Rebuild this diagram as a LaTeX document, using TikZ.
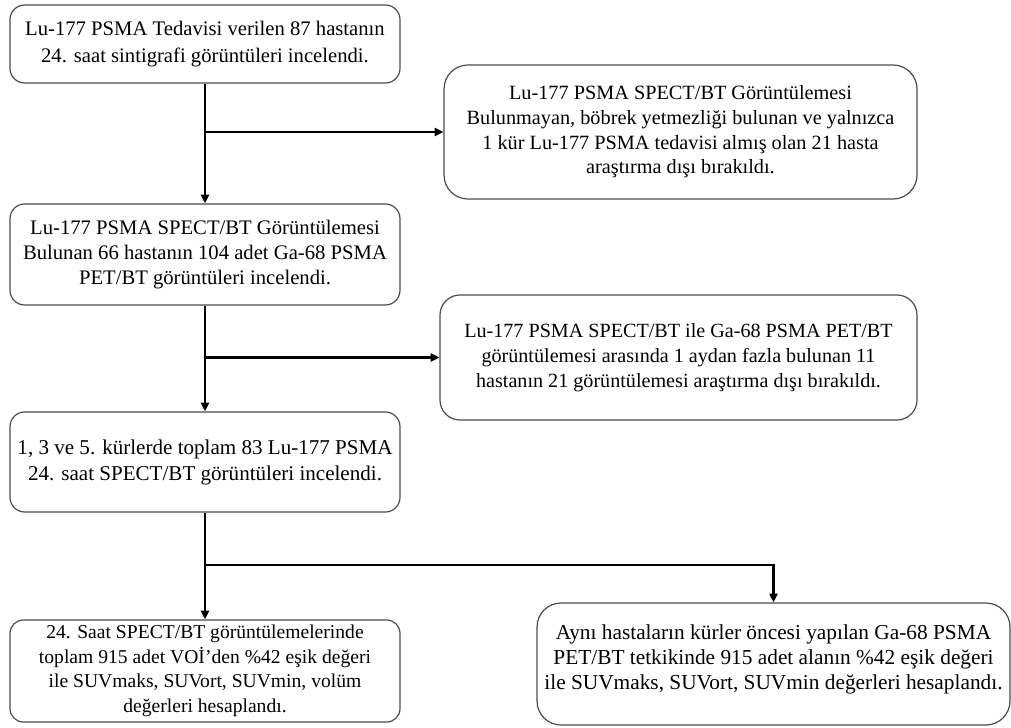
\documentclass[tikz,border=0pt]{standalone}
\usepackage{fontspec}
\setmainfont{Liberation Serif}
\usetikzlibrary{arrows.meta}
\tikzset{
  box/.style={draw=black!70, line width=0.9pt, fill=white, align=center, inner sep=0pt},
  conn/.style={line width=2pt, black},
  arr/.style={conn, -{Triangle[length=6.5pt,width=6pt]}},
}
\begin{document}
\begin{tikzpicture}[x=0.75pt,y=-0.75pt]
\useasboundingbox (0,0) rectangle (1011,728);
\node[box, font=\fontsize{15.5}{20.25}\selectfont, rounded corners=11pt, minimum width=292.5pt, minimum height=58.5pt] (b1) at (205,44)
  {Lu-177 PSMA Tedavisi verilen 87 hastanın\\24. saat sintigrafi görüntüleri incelendi.};
\node[box, font=\fontsize{15.2}{18.5}\selectfont, rounded corners=18pt, minimum width=354.75pt, minimum height=100.5pt] (b2) at (680.5,132)
  {Lu-177 PSMA SPECT/BT Görüntülemesi\\Bulunmayan, böbrek yetmezliği bulunan ve yalnızca\\1 kür Lu-177 PSMA tedavisi almış olan 21 hasta\\araştırma dışı bırakıldı.};
\node[box, font=\fontsize{15.5}{18.75}\selectfont, rounded corners=11pt, minimum width=292.5pt, minimum height=75.75pt] (b3) at (205,254.5)
  {Lu-177 PSMA SPECT/BT Görüntülemesi\\Bulunan 66 hastanın 104 adet Ga-68 PSMA\\PET/BT görüntüleri incelendi.};
\node[box, font=\fontsize{15.1}{18.75}\selectfont, rounded corners=15pt, minimum width=357.75pt, minimum height=93.75pt] (b4) at (678.5,357.5)
  {Lu-177 PSMA SPECT/BT ile Ga-68 PSMA PET/BT\\görüntülemesi arasında 1 aydan fazla bulunan 11\\hastanın 21 görüntülemesi araştırma dışı bırakıldı.};
\node[box, font=\fontsize{15.8}{19.5}\selectfont, rounded corners=11pt, minimum width=292.5pt, minimum height=75pt] (b5) at (205,462)
  {1, 3 ve 5. kürlerde toplam 83 Lu-177 PSMA\\24. saat SPECT/BT görüntüleri incelendi.};
\node[box, font=\fontsize{14.7}{18.4}\selectfont, rounded corners=10pt, minimum width=292.5pt, minimum height=76.5pt] (b6) at (205,671)
  {24. Saat SPECT/BT görüntülemelerinde\\toplam 915 adet VOİ’den \%42 eşik değeri\\ile SUVmaks, SUVort, SUVmin, volüm\\değerleri hesaplandı.};
\node[box, rounded corners=18pt, minimum width=354.75pt, minimum height=91.5pt] (b7) at (773.5,664) {};
\node[font=\fontsize{16}{18.75}\selectfont, align=center, inner sep=0pt] (t7) at (773.5,659)
  {Aynı hastaların kürler öncesi yapılan Ga-68 PSMA\\PET/BT tetkikinde 915 adet alanın \%42 eşik değeri\\ile SUVmaks, SUVort, SUVmin değerleri hesaplandı.};
\coordinate (j1) at (205,132);
\coordinate (j2) at (205,357.5);
\coordinate (j3) at (205,565);
\coordinate (k3) at (773.5,565);
\draw[arr] (b1.south) -- (b3.north);
\draw[arr] (j1) -- (b2.west);
\draw[arr] (b3.south) -- (b5.north);
\draw[arr] (j2) -- (b4.west);
\draw[arr] (b5.south) -- (b6.north);
\draw[arr] (j3) -- (k3) -- (b7.north);
\end{tikzpicture}
\end{document}
